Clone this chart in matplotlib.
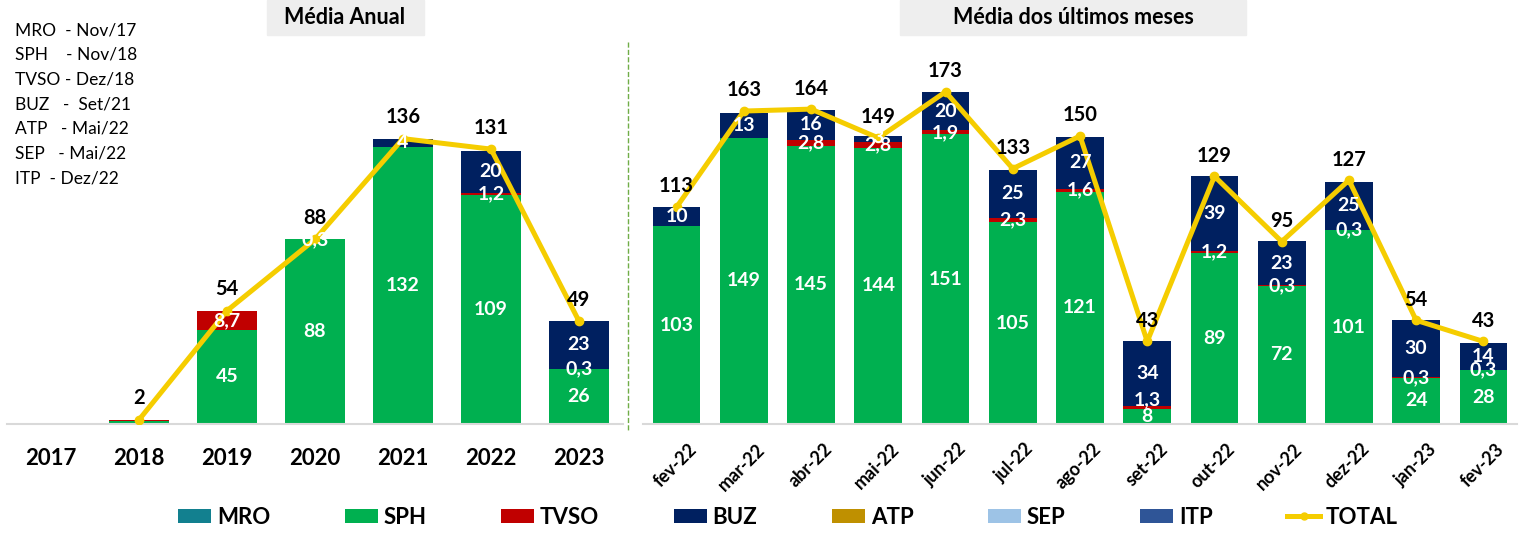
import matplotlib.pyplot as plt
import matplotlib.transforms as mtransforms
from matplotlib.patches import Rectangle, Patch
from matplotlib.lines import Line2D

plt.rcParams['font.family'] = ['Lato', 'DejaVu Sans']

# ---- data: annual averages
years = ["2017", "2018", "2019", "2020", "2021", "2022", "2023"]
y_mro = [0, 0, 0, 0, 0, 0, 0]
y_sph = [0, 1.3, 45, 88, 132, 109, 26]
y_tvso = [0, 0.5, 8.7, 0.3, 0, 1.2, 0.3]
y_buz = [0, 0, 0, 0, 4, 20, 23]
y_atp = [0, 0, 0, 0, 0, 0, 0]
y_sep = [0, 0, 0, 0, 0, 0, 0]
y_itp = [0, 0, 0, 0, 0, 0, 0]
y_total = [None, 2, 54, 88, 136, 131, 49]

# ---- data: last months
months = ["fev-22", "mar-22", "abr-22", "mai-22", "jun-22", "jul-22", "ago-22",
          "set-22", "out-22", "nov-22", "dez-22", "jan-23", "fev-23"]
m_mro = [0, 0, 0, 0, 0, 0, 0, 0, 0, 0, 0, 0, 0]
m_sph = [103, 149, 145, 144, 151, 105, 121, 8, 89, 72, 101, 24, 28]
m_tvso = [0, 0, 2.8, 2.8, 1.9, 2.3, 1.6, 1.3, 1.2, 0.3, 0.3, 0.3, 0.3]
m_buz = [10, 13, 16, 3, 20, 25, 27, 34, 39, 23, 25, 30, 14]
m_atp = [0, 0, 0, 0, 0, 0, 0, 0, 0, 0, 0, 0, 0]
m_sep = [0, 0, 0, 0, 0, 0, 0, 0, 0, 0, 0, 0, 0]
m_itp = [0, 0, 0, 0, 0, 0, 0, 0, 0, 0, 0, 0, 0]
m_total = [113, 163, 164, 149, 173, 133, 150, 43, 129, 95, 127, 54, 43]

start_notes = ["MRO  - Nov/17", "SPH    - Nov/18", "TVSO - Dez/18", "BUZ   -  Set/21",
               "ATP   - Mai/22", "SEP   - Mai/22", "ITP  - Dez/22"]

series_names = ["MRO", "SPH", "TVSO", "BUZ", "ATP", "SEP", "ITP"]
colors = ['#12808F', '#00B050', '#C00000', '#002060', '#BF9000', '#9DC3E6', '#2F5597']
line_color = '#F5CD00'


def fmt(v):
    if v == int(v):
        return "%d" % v
    return ("%.1f" % v).replace('.', ',')


def draw_panel(ax, cats, stacks, totals, width, ymax, tick_fs, rot):
    x = list(range(len(cats)))
    bottom = [0.0] * len(cats)
    for k, vals in enumerate(stacks):
        ax.bar(x, vals, bottom=bottom, width=width, color=colors[k], zorder=2)
        for i, v in enumerate(vals):
            if v > 0 and totals[i] is not None and totals[i] >= 5:
                yl = bottom[i] + v / 2
                # thin stripe on a short segment: lift the label a bit
                if v < 2 and 0 < bottom[i] < 15:
                    yl = bottom[i] + v + 3.5
                # very thin segment on top of the bar: label near its upper edge
                if v < 4 and bottom[i] + v >= totals[i] - 1:
                    yl = bottom[i] + v - 0.5
                ax.text(i, yl, fmt(v), color='white', fontweight='bold',
                        fontsize=14, ha='center', va='center', zorder=4)
        bottom = [b + v for b, v in zip(bottom, vals)]
    xs = [i for i, t in enumerate(totals) if t is not None]
    ts = [t for t in totals if t is not None]
    ax.plot(xs, ts, color=line_color, lw=3.6, marker='o', ms=6, zorder=3)
    for i, t in zip(xs, ts):
        ax.text(i, t + 5.5, fmt(t), color='black', fontweight='bold', fontsize=14.5,
                ha='center', va='bottom', zorder=5)
    ax.set_xlim(-0.5, len(cats) - 0.5)
    ax.set_ylim(0, ymax)
    ax.set_yticks([])
    for s in ['top', 'right', 'left']:
        ax.spines[s].set_visible(False)
    ax.spines['bottom'].set_color('#D9D9D9')
    ax.spines['bottom'].set_linewidth(1.5)
    ax.set_xticks(x)
    if rot:
        ax.set_xticklabels(cats, fontsize=tick_fs, fontweight='bold', rotation=45,
                           ha='right', rotation_mode='anchor')
        ax.tick_params(axis='x', length=0, pad=6)
        shift = mtransforms.ScaledTranslation(0.12, -0.08, ax.figure.dpi_scale_trans)
        for lab in ax.get_xticklabels():
            lab.set_transform(lab.get_transform() + shift)
    else:
        ax.set_xticklabels(cats, fontsize=tick_fs, fontweight='bold')
        ax.tick_params(axis='x', length=0, pad=17)


fig = plt.figure(figsize=(15.24, 5.46), dpi=100)
W, H = 1524.0, 546.0
ax1 = fig.add_axes([7 / W, 122 / H, 616 / W, 384 / H])
ax2 = fig.add_axes([643 / W, 122 / H, 874 / W, 384 / H])

draw_panel(ax1, years, [y_mro, y_sph, y_tvso, y_buz, y_atp, y_sep, y_itp], y_total,
           0.68, 183, 16, False)
draw_panel(ax2, months, [m_mro, m_sph, m_tvso, m_buz, m_atp, m_sep, m_itp], m_total,
           0.71, 200, 13, True)

# title boxes
fig.patches.append(Rectangle((267 / W, 1 - 35 / H), 157 / W, 35 / H, transform=fig.transFigure,
                             color='#EEEEEE', zorder=0))
fig.text(345 / W, 1 - 17 / H, "Média Anual", fontsize=15.5, fontweight='bold', ha='center', va='center')
fig.patches.append(Rectangle((900 / W, 1 - 35 / H), 346 / W, 35 / H, transform=fig.transFigure,
                             color='#EEEEEE', zorder=0))
fig.text(1073 / W, 1 - 17 / H, "Média dos últimos meses", fontsize=15.5, fontweight='bold',
         ha='center', va='center')

# start dates
for i, s in enumerate(start_notes):
    fig.text(15 / W, 1 - (30 + i * 24.7) / H, s, fontsize=12.5, ha='left', va='center')

# separator
fig.add_artist(Line2D([628 / W, 628 / W], [1 - 42 / H, 1 - 430 / H], transform=fig.transFigure,
                      ls='--', color='#70AD47', lw=1))

handles = [Patch(facecolor=c, label=n) for c, n in zip(colors, series_names)]
handles.append(Line2D([], [], color=line_color, lw=3.6, marker='o', ms=5, label="TOTAL"))
fig.legend(handles=handles, loc='center', ncol=8, bbox_to_anchor=(158 / W, 9 / H, 1260 / W, 40 / H),
           mode='expand', frameon=False, prop={'size': 16, 'weight': 'bold'},
           handlelength=1.5, handleheight=0.6, handletextpad=0.25)

fig.savefig("out.png", dpi=100)
